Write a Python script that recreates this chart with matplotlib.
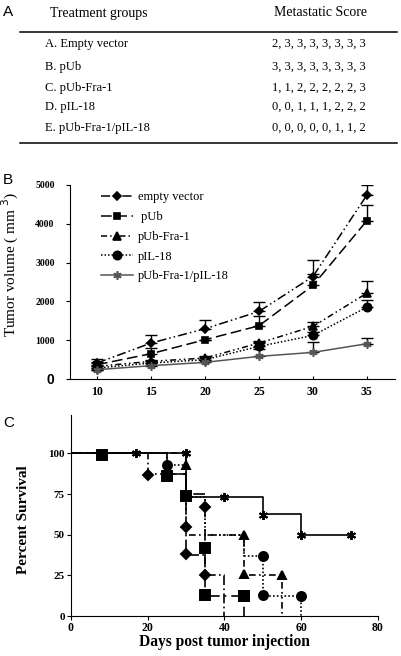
import numpy as np
import matplotlib
matplotlib.use("Agg")
import matplotlib.pyplot as plt
from matplotlib.lines import Line2D

SERIF = "Liberation Serif"
SANS = "Liberation Sans"

# --- panel A: metastatic scores ---
groups = ["A. Empty vector", "B. pUb", "C. pUb-Fra-1", "D. pIL-18", "E. pUb-Fra-1/pIL-18"]
scores = ["2, 3, 3, 3, 3, 3, 3, 3", "3, 3, 3, 3, 3, 3, 3, 3", "1, 1, 2, 2, 2, 2, 2, 3",
          "0, 0, 1, 1, 1, 2, 2, 2", "0, 0, 0, 0, 0, 1, 1, 2"]

# --- panel B: tumor volume ---
days_b = [10, 15, 20, 25, 30, 35]
vol_empty = [412, 926, 1295, 1741, 2641, 4743]
err_empty = [110, 205, 215, 250, 430, 257]
vol_pub = [369, 652, 1012, 1372, 2410, 4082]
err_pub = [80, 150, 0, 240, 290, 410]
vol_fra = [326, 455, 540, 926, 1355, 2213]
err_fra = [0, 0, 60, 60, 110, 300]
vol_il18 = [283, 412, 497, 840, 1123, 1852]
err_il18 = [0, 80, 80, 120, 90, 190]
vol_combo = [240, 343, 429, 583, 686, 909]
err_combo = [0, 60, 60, 180, 257, 145]

# --- panel C: survival (step curves + marker points) ---
surv_empty_t = [0, 20, 30, 30, 35, 40]
surv_empty_s = [100, 87.5, 62, 37.5, 25, 0]
mark_empty_t = [20, 30, 30, 35, 35]
mark_empty_s = [87, 55, 38, 67, 25]
surv_pub_t = [0, 25, 30, 35, 35, 45]
surv_pub_s = [100, 87.5, 75, 42, 12.5, 0]
mark_pub_t = [8, 25, 30, 35, 35, 45]
mark_pub_s = [99, 86, 74, 42, 13, 12]
surv_fra_t = [0, 30, 30, 45, 55]
surv_fra_s = [100, 93, 50, 25, 0]
mark_fra_t = [30, 45, 45, 55]
mark_fra_s = [93, 50, 26, 25]
surv_il18_t = [0, 25, 30, 35, 45, 50, 60]
surv_il18_s = [100, 93, 73, 50, 37, 12.5, 0]
mark_il18_t = [25, 50, 50, 60]
mark_il18_s = [93, 37, 13, 12]
surv_combo_t = [0, 30, 50, 60, 73]
surv_combo_s = [100, 73, 62.5, 50, 50]
mark_combo_t = [17, 30, 40, 50, 60, 73]
mark_combo_s = [100, 100, 73, 62, 50, 50]

W, H = 401, 656
fig = plt.figure(figsize=(W / 100, H / 100), dpi=100)


def fy(y):
    # pixel row -> figure fraction
    return 1 - y / H


def fx(x):
    return x / W


# panel letters
for letter, y in [("A", 12), ("B", 180), ("C", 423)]:
    fig.text(fx(3), fy(y), letter, family=SANS, fontsize=11, va="center", ha="left")

# table
fig.text(fx(50), fy(13), "Treatment groups", family=SERIF, fontsize=10, va="center")
fig.text(fx(321), fy(13), "Metastatic Score", family=SERIF, fontsize=10, va="center", ha="center")
for yy in (32, 143):
    fig.add_artist(Line2D([fx(20), fx(397)], [fy(yy), fy(yy)], color="k", lw=1.1))
row_y = [44, 67, 88, 107, 128]
for g, s, yy in zip(groups, scores, row_y):
    fig.text(fx(45), fy(yy), g, family=SERIF, fontsize=9, va="center")
    fig.text(fx(319), fy(yy), s, family=SERIF, fontsize=9, va="center", ha="center")

# ---------------- panel B ----------------
axb = fig.add_axes([fx(70), fy(379), (395 - 70) / W, (379 - 185) / H])
styles_b = [
    ("empty vector", vol_empty, err_empty, "D", (0, (6, 2, 1, 2, 1, 2)), "k", 4.5),
    (" pUb", vol_pub, err_pub, "s", (0, (7, 3)), "k", 5),
    ("pUb-Fra-1", vol_fra, err_fra, "^", (0, (4, 2, 1, 2, 1, 2)), "k", 5.5),
    ("pIL-18", vol_il18, err_il18, "o", (0, (1, 1.3)), "k", 6),
    ("pUb-Fra-1/pIL-18", vol_combo, err_combo, (6, 2, 0), "-", "#555555", 6),
]
for lab, v, e, mk, ls, col, ms in styles_b:
    axb.errorbar(days_b, v, yerr=[np.zeros(len(e)), e], fmt="none", ecolor="k",
                 elinewidth=1, capsize=4, capthick=1)
    axb.plot(days_b, v, linestyle=ls, color=col, marker=mk, markersize=ms,
             markerfacecolor=col, markeredgecolor=col, markeredgewidth=1.2, lw=1.1, label=lab)
axb.set_xlim(7.5, 37.6)
axb.set_ylim(0, 5000)
axb.spines["top"].set_visible(False)
axb.spines["right"].set_visible(False)
axb.set_xticks(days_b)
axb.set_xticklabels([str(d) for d in days_b], family=SERIF, fontweight="bold", fontsize=8.5)
axb.set_yticks([0, 1000, 2000, 3000, 4000, 5000])
axb.set_yticklabels(["0", "1000", "2000", "3000", "4000", "5000"], family=SERIF,
                    fontweight="bold", fontsize=7)
axb.get_yticklabels()[0].set_fontfamily(SANS)
axb.get_yticklabels()[0].set_fontsize(10)
axb.tick_params(axis="y", direction="out", length=3, width=0.8, pad=8)
axb.tick_params(axis="x", direction="in", length=2.5, width=0.8, pad=5)
axb.set_ylabel("Tumor volume ( mm $^{3}$)", family=SERIF, fontsize=11)
axb.yaxis.set_label_coords(-0.152, 0.59)
axb.legend(loc="upper left", bbox_to_anchor=(0.06, 1.025), frameon=False, handlelength=2.6,
           prop={"family": SERIF, "size": 9}, labelspacing=0.62, handletextpad=0.35)

# ---------------- panel C ----------------
axc = fig.add_axes([fx(71), fy(616), (378 - 71) / W, (616 - 415) / H])
styles_c = [
    (surv_empty_t, surv_empty_s, mark_empty_t, mark_empty_s, "D", (0, (6, 2, 1, 2)), 5),
    (surv_pub_t, surv_pub_s, mark_pub_t, mark_pub_s, "s", (0, (7, 3, 1, 3)), 6.5),
    (surv_fra_t, surv_fra_s, mark_fra_t, mark_fra_s, "^", (0, (4, 2, 1, 2, 1, 2)), 6),
    (surv_il18_t, surv_il18_s, mark_il18_t, mark_il18_s, "o", (0, (1, 1.3)), 6.5),
    (surv_combo_t, surv_combo_s, mark_combo_t, mark_combo_s, (6, 2, 0), "-", 6.5),
]
for t, s, mt, ms_, mk, ls, msz in styles_c:
    axc.step(t, s, where="post", color="k", linestyle=ls, lw=1.2)
    axc.plot(mt, ms_, linestyle="none", marker=mk, color="k", markersize=msz,
             markeredgewidth=1.4)
axc.set_xlim(0, 80)
axc.set_ylim(0, 123.6)
axc.spines["top"].set_visible(False)
axc.spines["right"].set_visible(False)
axc.set_xticks([0, 20, 40, 60, 80])
axc.set_xticklabels(["0", "20", "40", "60", "80"], family=SERIF, fontweight="bold", fontsize=8.5)
axc.set_yticks([0, 25, 50, 75, 100])
axc.set_yticklabels(["0", "25", "50", "75", "100"], family=SERIF, fontweight="bold", fontsize=8)
axc.tick_params(direction="out", length=3, width=0.8, pad=1.5)
axc.set_ylabel("Percent Survival", family=SERIF, fontweight="bold", fontsize=11)
axc.yaxis.set_label_coords(-0.135, 0.48)
axc.set_xlabel("Days post tumor injection", family=SERIF, fontweight="bold", fontsize=11.2,
               labelpad=0)

fig.savefig("out.png", dpi=100)
